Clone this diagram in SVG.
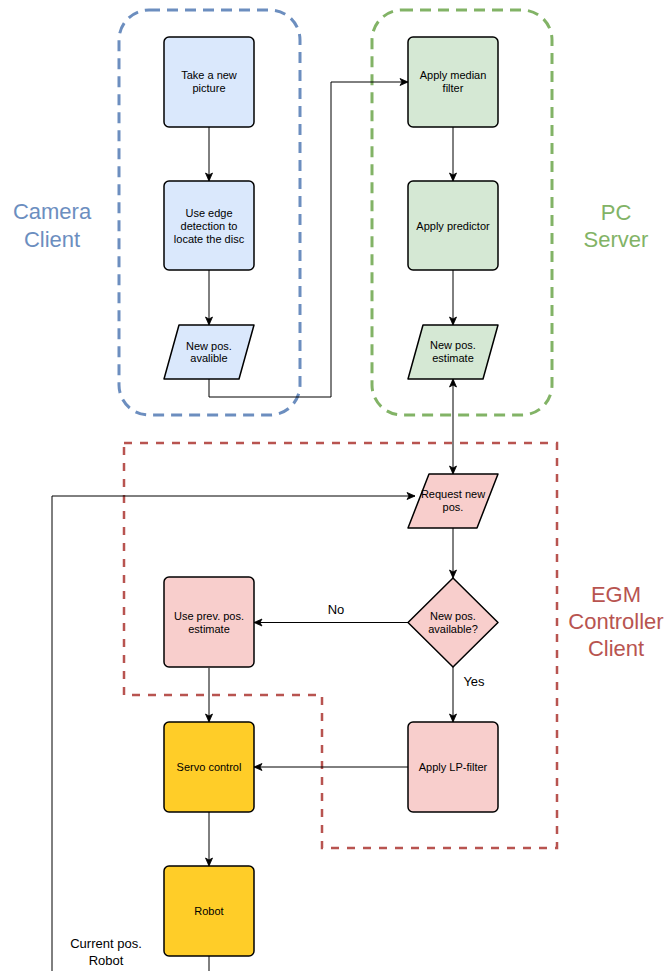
<svg xmlns="http://www.w3.org/2000/svg" width="667" height="971" viewBox="0 0 667 971">
<style>
.node{stroke:#000;stroke-width:1.5;stroke-linejoin:round}
.blue{fill:#dae8fc}.green{fill:#d5e8d4}.red{fill:#f8cecc}.yellow{fill:#ffcd28}
.t{font-family:"Liberation Sans",Arial,sans-serif;font-size:11px;fill:#000;text-anchor:middle}
.lbl{font-family:"Liberation Sans",Arial,sans-serif;font-size:13px;fill:#000;text-anchor:middle}
.big{font-family:"Liberation Sans",Arial,sans-serif;font-size:22px;text-anchor:middle}
.cont{fill:none;stroke-width:3;stroke-dasharray:11 7}
.cont2{fill:none;stroke-width:2.5;stroke-dasharray:8 8}
.edge{fill:none;stroke:#000;stroke-width:1}
</style>
<defs>
<marker id="arr" markerUnits="userSpaceOnUse" markerWidth="10" markerHeight="10" viewBox="0 0 10 10" refX="9" refY="5" orient="auto-start-reverse">
<path d="M1,1.5 L9,5 L1,8.5 L3,5 Z" fill="#000" stroke="#000" stroke-width="0.8"/>
</marker>
</defs>
<rect width="667" height="971" fill="#fff"/>
<g id="containers">
<g id="camera-client">
<rect class="cont" x="119" y="10" width="181" height="405" rx="30" stroke="#6c8ebf"/>
<text class="big" fill="#6c8ebf" x="52" y="219">Camera</text>
<text class="big" fill="#6c8ebf" x="52" y="247">Client</text>
</g>
<g id="pc-server">
<rect class="cont" x="372" y="10" width="180" height="405" rx="30" stroke="#82b366"/>
<text class="big" fill="#82b366" x="616" y="220">PC</text>
<text class="big" fill="#82b366" x="616" y="247">Server</text>
</g>
<g id="egm-client">
<path class="cont2" d="M124,443 H557 V848 H322 V695 H124 Z" stroke="#b85450"/>
<text class="big" fill="#b85450" x="616" y="602">EGM</text>
<text class="big" fill="#b85450" x="616" y="629">Controller</text>
<text class="big" fill="#b85450" x="616" y="656">Client</text>
</g>
</g>
<g id="connectors">
<path class="edge" d="M209,127 V181" marker-end="url(#arr)"/>
<path class="edge" d="M209,270 V325" marker-end="url(#arr)"/>
<path class="edge" d="M209,379 V397 H331 V82 H408" marker-end="url(#arr)"/>
<path class="edge" d="M453,127 V181" marker-end="url(#arr)"/>
<path class="edge" d="M453,270 V325" marker-end="url(#arr)"/>
<path class="edge" d="M453,379 V474" marker-start="url(#arr)" marker-end="url(#arr)"/>
<path class="edge" d="M453,528 V578" marker-end="url(#arr)"/>
<path class="edge" d="M408,622.5 H254" marker-end="url(#arr)"/>
<path class="edge" d="M453,667 V722" marker-end="url(#arr)"/>
<path class="edge" d="M209,668 V722" marker-end="url(#arr)"/>
<path class="edge" d="M408,767 H254" marker-end="url(#arr)"/>
<path class="edge" d="M209,812 V866" marker-end="url(#arr)"/>
<path class="edge" d="M209,956 V980 H52 V496 H415" marker-end="url(#arr)"/>
<text class="lbl" x="336" y="614">No</text>
<text class="lbl" x="474" y="686">Yes</text>
<text class="lbl" x="106" y="948">Current pos.</text>
<text class="lbl" x="106" y="965">Robot</text>
</g>
<g id="take-picture">
<rect class="node blue" x="164" y="37" width="90" height="90" rx="5"/>
<text class="t" x="209" y="79">Take a new</text>
<text class="t" x="209" y="92">picture</text>
</g>
<g id="edge-detection">
<rect class="node blue" x="164" y="181" width="90" height="89" rx="5"/>
<text class="t" x="209" y="217">Use edge</text>
<text class="t" x="209" y="230">detection to</text>
<text class="t" x="209" y="243">locate the disc</text>
</g>
<g id="new-pos-available">
<path class="node blue" d="M179,325 H254 L239,379 H164 Z"/>
<text class="t" x="209" y="350">New pos.</text>
<text class="t" x="209" y="362">avalible</text>
</g>
<g id="median-filter">
<rect class="node green" x="408" y="37" width="90" height="90" rx="5"/>
<text class="t" x="453" y="79">Apply median</text>
<text class="t" x="453" y="92">filter</text>
</g>
<g id="predictor">
<rect class="node green" x="408" y="181" width="90" height="89" rx="5"/>
<text class="t" x="453" y="230">Apply predictor</text>
</g>
<g id="new-pos-estimate">
<path class="node green" d="M423,325 H498 L483,379 H408 Z"/>
<text class="t" x="453" y="349">New pos.</text>
<text class="t" x="453" y="362">estimate</text>
</g>
<g id="request-pos">
<path class="node red" d="M429,474 H498 L477,528 H408 Z"/>
<text class="t" x="453" y="498">Request new</text>
<text class="t" x="453" y="511">pos.</text>
</g>
<g id="available-decision">
<path class="node red" d="M453,578 L498,622.5 L453,667 L408,622.5 Z"/>
<text class="t" x="453" y="620">New pos.</text>
<text class="t" x="453" y="633">available?</text>
</g>
<g id="use-prev">
<rect class="node red" x="164" y="577" width="90" height="90" rx="5"/>
<text class="t" x="209" y="620">Use prev. pos.</text>
<text class="t" x="209" y="633">estimate</text>
</g>
<g id="lp-filter">
<rect class="node red" x="408" y="722" width="90" height="90" rx="5"/>
<text class="t" x="453" y="771">Apply LP-filter</text>
</g>
<g id="servo">
<rect class="node yellow" x="164" y="722" width="90" height="90" rx="5"/>
<text class="t" x="209" y="771">Servo control</text>
</g>
<g id="robot">
<rect class="node yellow" x="164" y="866" width="90" height="90" rx="5"/>
<text class="t" x="209" y="915">Robot</text>
</g>
</svg>
